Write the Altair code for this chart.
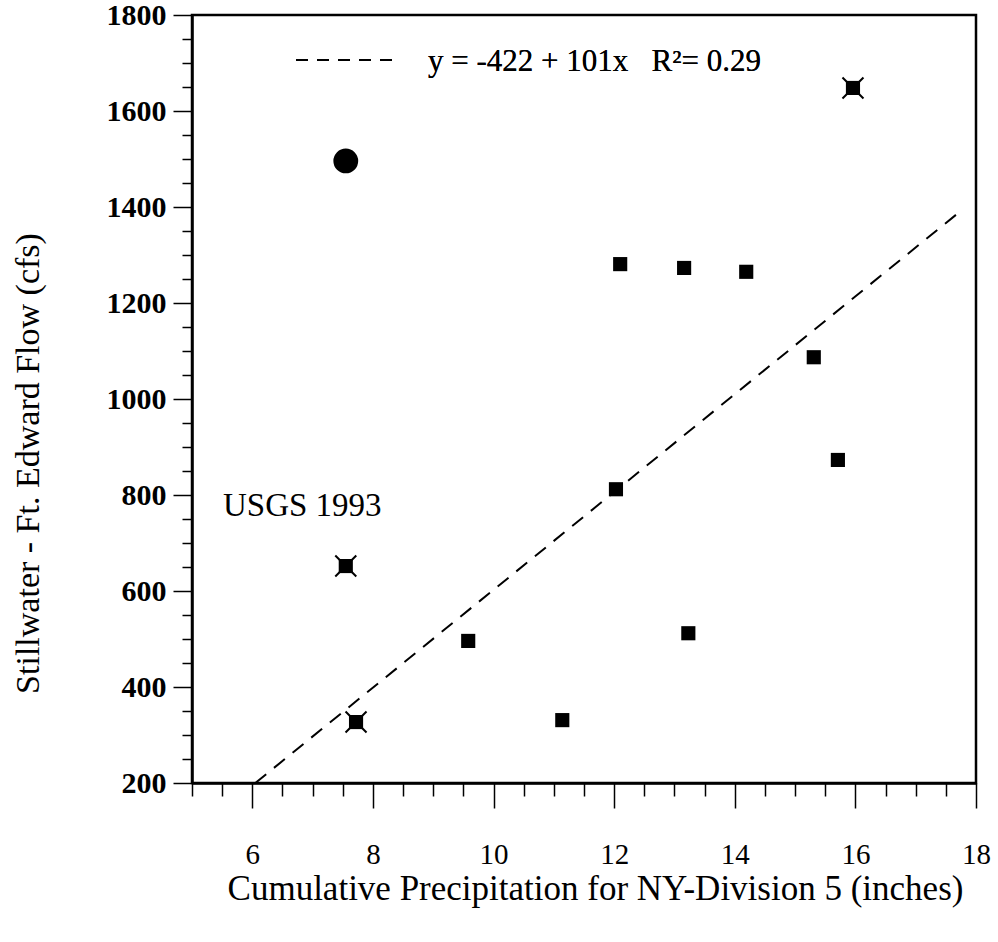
import altair as alt
import pandas as pd

# ---- data ----
sq_x = [12.10, 13.16, 14.19, 15.31, 15.71, 12.03, 13.23, 9.58, 11.14]
sq_y = [1281, 1273, 1265, 1087, 873, 812, 512, 496, 331]

star_x = [15.96, 7.55, 7.72]
star_y = [1648, 652, 327]

usgs_x = [7.55]
usgs_y = [1496]

fit_x = [6.05, 17.7]
fit_y = [200, 1387]

x_major = [6, 8, 10, 12, 14, 16, 18]
x_minor = [5, 5.5, 6.5, 7, 7.5, 8.5, 9, 9.5, 10.5, 11, 11.5, 12.5, 13, 13.5,
           14.5, 15, 15.5, 16.5, 17, 17.5]
y_major = [200, 400, 600, 800, 1000, 1200, 1400, 1600, 1800]
y_minor = [250, 300, 350, 450, 500, 550, 650, 700, 750, 850, 900, 950, 1050,
           1100, 1150, 1250, 1300, 1350, 1450, 1500, 1550, 1650, 1700, 1750]

x_title = "Cumulative Precipitation for NY-Division 5 (inches)"
y_title = "Stillwater - Ft. Edward Flow (cfs)"
equation = "y = -422 + 101x\u00a0\u00a0\u00a0R\u00b2= 0.29"
note = "USGS 1993"

FONT = "Liberation Serif"

sq_df = pd.DataFrame({"x": sq_x, "y": sq_y})
star_df = pd.DataFrame({"x": star_x, "y": star_y})
usgs_df = pd.DataFrame({"x": usgs_x, "y": usgs_y})
fit_df = pd.DataFrame({"x": fit_x, "y": fit_y})

xs = alt.Scale(domain=[5, 18], nice=False, zero=False)
ys = alt.Scale(domain=[200, 1800], nice=False, zero=False)

x_axis_major = alt.Axis(
    orient="bottom", values=x_major, format="d",
    tickSize=25, tickWidth=1.5, tickColor="black",
    domainColor="black", domainWidth=2.5,
    labelFont=FONT, labelFontSize=29, labelColor="black", labelPadding=32,
    labelFlush=False, labelOverlap=False,
    title=x_title, titleFont=FONT, titleFontSize=35, titleFontWeight="normal",
    titleColor="black", titleX=403, titleY=105, titleAlign="center",
    titleBaseline="middle", grid=False,
)
x_axis_minor = alt.Axis(
    orient="bottom", values=x_minor, tickSize=13, tickWidth=1.5,
    tickColor="black", domain=False, labels=False, title=None, grid=False,
)
y_axis_major = alt.Axis(
    orient="left", values=y_major, format="d",
    tickSize=19, tickWidth=1.5, tickColor="black",
    domainColor="black", domainWidth=2.5,
    labelFont=FONT, labelFontSize=30, labelFontWeight="bold", labelColor="black",
    labelPadding=7, labelFlush=False, labelOverlap=False,
    title=y_title, titleFont=FONT, titleFontSize=34, titleFontWeight="normal",
    titleColor="black", titleX=-164, titleY=448, titleAlign="center",
    titleBaseline="middle", titleAngle=270, grid=False,
)
y_axis_minor = alt.Axis(
    orient="left", values=y_minor, tickSize=10, tickWidth=1.5,
    tickColor="black", domain=False, labels=False, title=None, grid=False,
)

Xn = alt.X("x:Q", scale=xs, axis=None)
Yn = alt.Y("y:Q", scale=ys, axis=None)

# invisible layers that carry the axes
axes_major = alt.Chart(fit_df).mark_point(opacity=0).encode(
    x=alt.X("x:Q", scale=xs, axis=x_axis_major),
    y=alt.Y("y:Q", scale=ys, axis=y_axis_major),
)
axes_minor = alt.Chart(fit_df).mark_point(opacity=0).encode(
    x=alt.X("x:Q", scale=xs, axis=x_axis_minor),
    y=alt.Y("y:Q", scale=ys, axis=y_axis_minor),
)

fit = alt.Chart(fit_df).mark_line(
    color="black", strokeDash=[14, 10], strokeWidth=2
).encode(x=Xn, y=Yn)

squares = alt.Chart(sq_df).mark_square(
    size=200, color="black", opacity=1
).encode(x=Xn, y=Yn)

star_sq = alt.Chart(star_df).mark_square(
    size=200, color="black", opacity=1
).encode(x=Xn, y=Yn)

star_x_mark = alt.Chart(star_df).mark_point(
    shape="M-1,-1L1,1M1,-1L-1,1", size=441, filled=False,
    strokeWidth=2, color="black", opacity=1
).encode(x=Xn, y=Yn)

usgs = alt.Chart(usgs_df).mark_circle(
    size=616, color="black", opacity=1
).encode(x=Xn, y=Yn)

note_text = alt.Chart(usgs_df).mark_text(
    text=note, font=FONT, fontSize=33, color="black",
    align="left", baseline="middle"
).encode(x=alt.value(31), y=alt.value(491))

legend_line = alt.Chart(fit_df).mark_rule(
    color="black", strokeDash=[12, 9], strokeWidth=2
).encode(x=alt.value(104), x2=alt.value(208), y=alt.value(45))

eq_text = alt.Chart(fit_df).mark_text(
    text=equation, font=FONT, fontSize=31, color="black",
    align="left", baseline="middle"
).encode(x=alt.value(236), y=alt.value(47))

chart = alt.layer(
    axes_minor, axes_major, fit, squares, star_sq, star_x_mark, usgs,
    note_text, legend_line, eq_text
).resolve_axis(
    x="independent", y="independent"
).properties(
    width=784, height=768,
    autosize=alt.AutoSizeParams(type="none"),
    padding={"left": 192, "top": 15, "right": 22, "bottom": 159},
    background="white",
).configure_view(stroke="black", strokeWidth=2.5)

chart.save("out.html", embed_options={"renderer": "svg", "actions": False})
